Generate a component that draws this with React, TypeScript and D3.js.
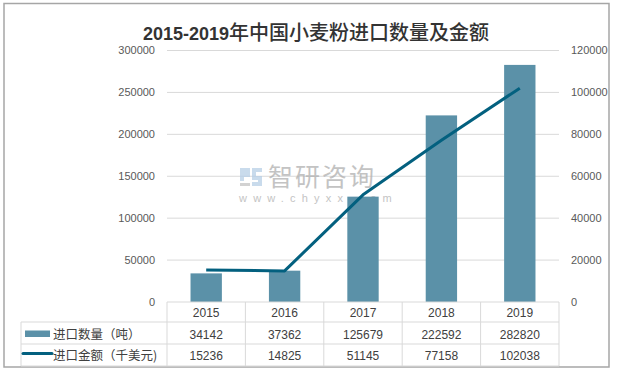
import React, { useEffect, useRef } from 'react';
import * as d3 from 'd3';

const years = ['2015', '2016', '2017', '2018', '2019'];
const importVolume = [34142, 37362, 125679, 222592, 282820]; // 吨
const importValue = [15236, 14825, 51145, 77158, 102038]; // 千美元
const leftTicks = [0, 50000, 100000, 150000, 200000, 250000, 300000];
const rightTicks = [0, 20000, 40000, 60000, 80000, 100000, 120000];
const seriesNames = ['进口数量（吨）', '进口金额（千美元)'];

const W = 618;
const H = 371;

const App: React.FC = () => {
  const svgRef = useRef<SVGSVGElement | null>(null);

  useEffect(() => {
    const svg = d3.select(svgRef.current);
    svg.selectAll('*').remove();

    const barColor = '#5b91a8';
    const lineColor = '#03607f';
    const gridColor = '#d9d9d9';
    const numFont = '"Liberation Sans", Arial, sans-serif';
    const cjkFont = '"Noto Sans CJK SC", "Liberation Sans", sans-serif';

    const plot = { left: 167, right: 559, top: 50.5, bottom: 302 };
    const rows = { top: 302, r1: 322, r2: 344, bottom: 366, left: 21 };

    // outer frame
    svg.append('rect')
      .attr('x', 4).attr('y', 3.5)
      .attr('width', 605).attr('height', 363.5)
      .attr('fill', '#fff')
      .attr('stroke', '#a6a6a6')
      .attr('stroke-width', 1.5);

    // title
    const title = svg.append('text')
      .attr('x', 316)
      .attr('y', 40)
      .attr('text-anchor', 'middle')
      .attr('fill', '#333');
    title.append('tspan')
      .attr('font-family', numFont)
      .attr('font-weight', 700)
      .attr('font-size', 18)
      .text('2015-2019');
    title.append('tspan')
      .attr('font-family', cjkFont)
      .attr('font-weight', 500)
      .attr('font-size', 20)
      .text('年中国小麦粉进口数量及金额');

    const x = d3.scaleBand<string>()
      .domain(years)
      .range([plot.left, plot.right])
      .padding(0);

    const yL = d3.scaleLinear().domain([0, 300000]).range([plot.bottom, plot.top]);
    const yR = d3.scaleLinear().domain([0, 120000]).range([plot.bottom, plot.top]);

    // gridlines
    svg.append('g')
      .selectAll('line')
      .data(leftTicks.filter(t => t > 0))
      .join('line')
      .attr('x1', plot.left).attr('x2', plot.right)
      .attr('y1', d => yL(d)).attr('y2', d => yL(d))
      .attr('stroke', gridColor)
      .attr('stroke-width', 1);

    // left axis labels
    svg.append('g')
      .selectAll('text')
      .data(leftTicks)
      .join('text')
      .attr('x', 155)
      .attr('y', d => yL(d))
      .attr('dy', '0.35em')
      .attr('text-anchor', 'end')
      .attr('font-family', numFont)
      .attr('font-size', 11)
      .attr('fill', '#595959')
      .text(d => d);

    // right axis labels
    svg.append('g')
      .selectAll('text')
      .data(rightTicks)
      .join('text')
      .attr('x', 571)
      .attr('y', d => yR(d))
      .attr('dy', '0.35em')
      .attr('text-anchor', 'start')
      .attr('font-family', numFont)
      .attr('font-size', 11)
      .attr('fill', '#595959')
      .text(d => d);

    // watermark
    const wm = svg.append('g').attr('opacity', 0.75);
    const logo = wm.append('g').attr('transform', 'translate(240,168)');
    logo.append('path')
      .attr('d', 'M0,0 H10 V9 H4 V13 H0 Z')
      .attr('fill', '#b7cfe6');
    logo.append('path')
      .attr('d', 'M0,15 H10 V18 H0 Z')
      .attr('fill', '#c4c4c4');
    logo.append('path')
      .attr('d', 'M12,0 H22 V4 H16 V8 H22 V18 H12 V14 H18 V12 H12 Z')
      .attr('fill', '#b7cfe6');
    wm.append('text')
      .attr('x', 268).attr('y', 186)
      .attr('font-family', cjkFont)
      .attr('font-size', 25)
      .attr('letter-spacing', 2)
      .attr('fill', '#b0b0b0')
      .text('智研咨询');
    wm.append('text')
      .attr('x', 239).attr('y', 202)
      .attr('font-family', numFont)
      .attr('font-size', 11)
      .attr('letter-spacing', 6.2)
      .attr('fill', '#b0b0b0')
      .text('www.chyxx.com');

    // bars
    const bw = x.bandwidth() * 0.4;
    svg.append('g')
      .selectAll('rect')
      .data(importVolume)
      .join('rect')
      .attr('x', (d, i) => x(years[i])! + (x.bandwidth() - bw) / 2)
      .attr('y', d => yL(d))
      .attr('width', bw)
      .attr('height', d => plot.bottom - yL(d))
      .attr('fill', barColor);

    // line
    const line = d3.line<number>()
      .x((d, i) => x(years[i])! + x.bandwidth() / 2)
      .y(d => yR(d));
    svg.append('path')
      .datum(importValue)
      .attr('d', line)
      .attr('fill', 'none')
      .attr('stroke', lineColor)
      .attr('stroke-width', 3)
      .attr('stroke-linejoin', 'round');

    // data table
    const tbl = svg.append('g').attr('stroke', gridColor).attr('stroke-width', 1);
    tbl.append('line')
      .attr('x1', plot.left).attr('x2', plot.right)
      .attr('y1', rows.top).attr('y2', rows.top);
    [rows.r1, rows.r2, rows.bottom].forEach(yy => {
      tbl.append('line')
        .attr('x1', rows.left).attr('x2', plot.right)
        .attr('y1', yy).attr('y2', yy);
    });
    const bounds = years.map(y => x(y)!).concat([plot.right]);
    tbl.selectAll('line.v')
      .data(bounds)
      .join('line')
      .attr('class', 'v')
      .attr('x1', d => d).attr('x2', d => d)
      .attr('y1', rows.top).attr('y2', rows.bottom);
    tbl.append('line')
      .attr('x1', rows.left).attr('x2', rows.left)
      .attr('y1', rows.r1).attr('y2', rows.bottom);

    const cellText = (vals: (string | number)[], baseline: number) => {
      svg.append('g')
        .selectAll('text')
        .data(vals)
        .join('text')
        .attr('x', (d, i) => x(years[i])! + x.bandwidth() / 2)
        .attr('y', baseline)
        .attr('text-anchor', 'middle')
        .attr('font-family', numFont)
        .attr('font-size', 12)
        .attr('fill', '#404040')
        .text(d => d);
    };
    cellText(years, 317);
    cellText(importVolume, 338.5);
    cellText(importValue, 360);

    // legend keys + names
    svg.append('rect')
      .attr('x', 25).attr('y', 330.5)
      .attr('width', 25).attr('height', 6.5)
      .attr('fill', barColor);
    svg.append('line')
      .attr('x1', 23).attr('x2', 52)
      .attr('y1', 353.5).attr('y2', 353.5)
      .attr('stroke', lineColor)
      .attr('stroke-width', 3)
      .attr('stroke-linecap', 'round');
    svg.append('g')
      .selectAll('text')
      .data(seriesNames)
      .join('text')
      .attr('x', 53)
      .attr('y', (d, i) => (i === 0 ? 338.5 : 360))
      .attr('font-family', cjkFont)
      .attr('font-size', 12.5)
      .attr('fill', '#404040')
      .text(d => d);
  }, []);

  return (
    <svg
      ref={svgRef}
      width={W}
      height={H}
      style={{ position: 'absolute', left: 0, top: 0, background: '#fff' }}
    />
  );
};

export default App;
